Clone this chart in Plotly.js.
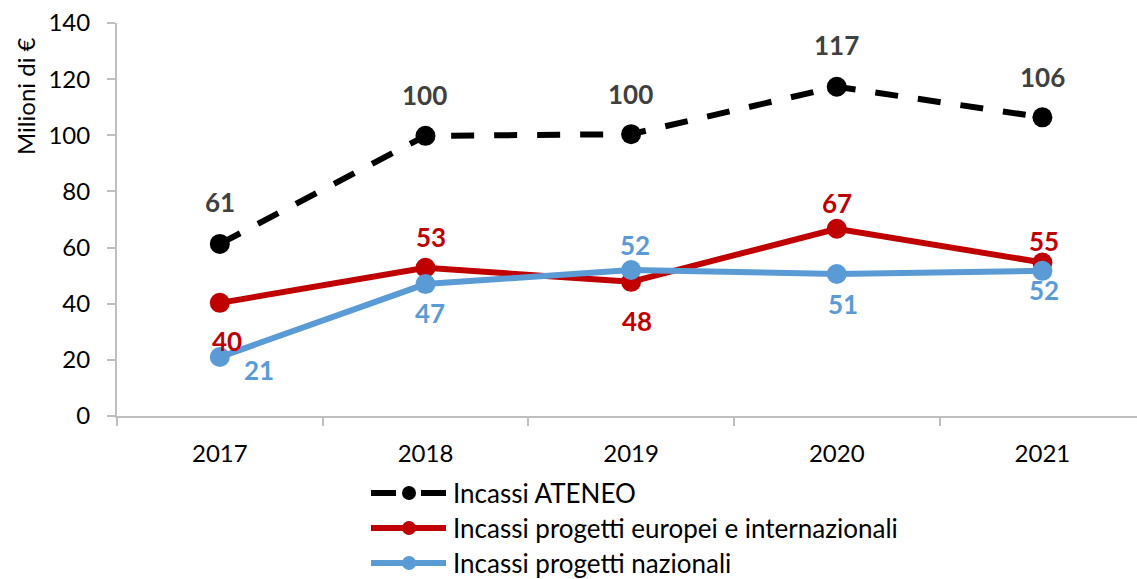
<!DOCTYPE html>
<html>
<head>
<meta charset="utf-8">
<script src="https://cdn.plot.ly/plotly-3.0.1.min.js"></script>
<style>html,body{margin:0;padding:0;background:#fff;}#chart{width:1137px;height:579px;}</style>
</head>
<body>
<div id="chart"></div>
<script>
// ---- data ----
const years = ["2017", "2018", "2019", "2020", "2021"];
const seriesNames = ["Incassi ATENEO", "Incassi progetti europei e internazionali", "Incassi progetti nazionali"];
const ateneo = [61.3, 99.8, 100.4, 117.3, 106.4];
const europei = [40.3, 52.8, 47.8, 66.7, 54.7];
const nazionali = [21.0, 47.0, 52.0, 50.6, 51.7];
const yTicks = [0, 20, 40, 60, 80, 100, 120, 140];
const yAxisTitle = "Milioni di €";

// ---- styles ----
const FONT = "Lato, 'Open Sans', sans-serif";
const colors = ["#000000", "#C00000", "#5B9BD5"];
const labelColors = ["#404040", "#C00000", "#5B9BD5"];
const dashes = ["23px,20px", "solid", "solid"];
// label offsets in pixels [dx, dy] (dy up)
const labelOffsets = [
  [[0, 42], [-1, 41], [-1, 40], [0, 42], [0, 40]],
  [[7, -38], [6, 31], [6, -39], [0, 26], [2, 21]],
  [[39, -13], [5, -29], [4, 25], [6, -30], [2, -19]]
];

const L = 117, T = 23, B = 163, W = 1137, H = 579;
const plotW = W - L, plotH = H - T - B;
const px2x = p => (p - L) / plotW;
const py2y = p => (H - B - p) / plotH;

const allSeries = [ateneo, europei, nazionali];
const traces = allSeries.map((vals, i) => ({
  type: "scatter",
  mode: "lines+markers",
  x: years,
  y: vals,
  name: seriesNames[i],
  line: {color: colors[i], width: 6, dash: dashes[i]},
  marker: {color: colors[i], size: 20, line: {width: 0}},
  showlegend: false,
  hoverinfo: "skip"
}));

const annotations = [];
allSeries.forEach((vals, i) => {
  vals.forEach((v, j) => {
    annotations.push({
      xref: "x", yref: "y", x: j, y: v,
      text: "<b>" + Math.round(v) + "</b>",
      showarrow: false,
      xanchor: "center", yanchor: "middle",
      xshift: labelOffsets[i][j][0], yshift: labelOffsets[i][j][1],
      font: {family: FONT, size: 26, color: labelColors[i]}
    });
  });
});
annotations.push({
  xref: "paper", yref: "paper", x: px2x(25), y: py2y(96),
  text: yAxisTitle, textangle: -90, showarrow: false,
  xanchor: "center", yanchor: "middle",
  font: {family: FONT, size: 24, color: "#000"}
});

// custom legend
const shapes = [];
const legRows = [493, 528, 563];
seriesNames.forEach((nm, i) => {
  const yy = py2y(legRows[i]);
  shapes.push({
    type: "line", xref: "paper", yref: "paper",
    x0: px2x(371), x1: px2x(446), y0: yy, y1: yy,
    line: {color: colors[i], width: 6, dash: i === 0 ? "25px,25px" : "solid"}
  });
  const r = 7;
  shapes.push({
    type: "circle", xref: "paper", yref: "paper",
    x0: px2x(409 - r), x1: px2x(409 + r),
    y0: py2y(legRows[i] + r), y1: py2y(legRows[i] - r),
    fillcolor: colors[i], line: {width: 0}
  });
  annotations.push({
    xref: "paper", yref: "paper", x: px2x(451), y: yy,
    text: nm, showarrow: false, xanchor: "left", yanchor: "middle",
    font: {family: FONT, size: 26, color: "#000"}
  });
});

const layout = {
  width: W, height: H,
  margin: {l: L, r: 0, t: T, b: B, pad: 0},
  paper_bgcolor: "#fff", plot_bgcolor: "#fff",
  font: {family: FONT, color: "#000"},
  showlegend: false,
  xaxis: {
    type: "category", categoryarray: years,
    range: [-0.5, 4.46],
    tickson: "boundaries", ticks: "outside", ticklen: 8, tickwidth: 2, tickcolor: "#BFBFBF",
    ticklabelstandoff: 15,
    showline: true, linecolor: "#BFBFBF", linewidth: 2,
    showgrid: false, zeroline: false,
    tickfont: {family: FONT, size: 24, color: "#000"},
    fixedrange: true
  },
  yaxis: {
    range: [0, 140], tickvals: yTicks, ticktext: yTicks.map(String),
    ticks: "outside", ticklen: 8, tickwidth: 2, tickcolor: "#BFBFBF",
    ticklabelstandoff: 12,
    showline: true, linecolor: "#BFBFBF", linewidth: 2,
    showgrid: false, zeroline: false,
    tickfont: {family: FONT, size: 24, color: "#000"},
    fixedrange: true
  },
  annotations: annotations,
  shapes: shapes
};

Plotly.newPlot("chart", traces, layout, {displayModeBar: false, staticPlot: true});
</script>
</body>
</html>
